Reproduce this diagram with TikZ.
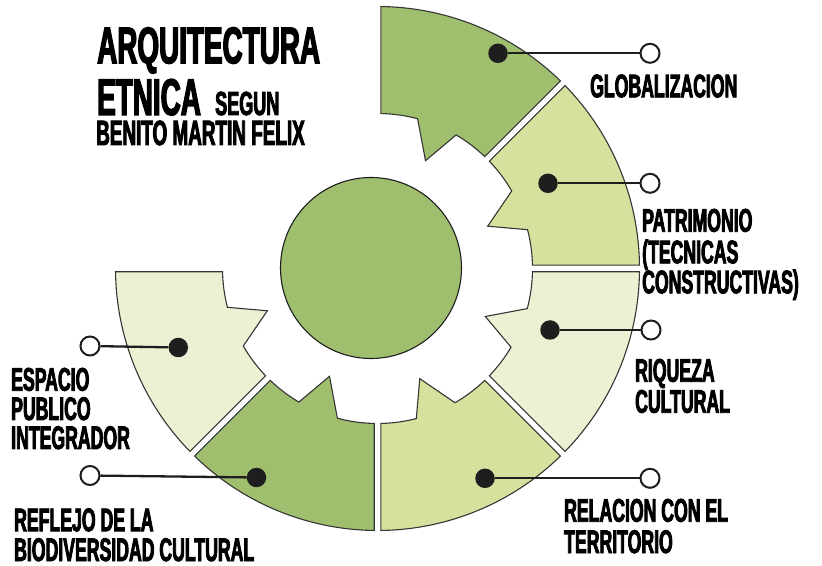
\documentclass[tikz,border=0pt]{standalone}
\usepackage{fontspec}
\newfontfamily\labfont{Liberation Sans}[UprightFont=* Bold, FakeStretch=0.54, FakeBold=2.5]
\definecolor{gdark}{HTML}{A0BF6E}
\definecolor{gmid}{HTML}{D5E29D}
\definecolor{glight}{HTML}{EBF1D2}
\definecolor{ink}{HTML}{1E1E1E}
\def\rin{155}
\def\rout{262}
\def\rtip{118}
\def\gap{3.3}
\newcommand{\ringseg}[2]{%
  \pgfmathsetmacro{\ai}{#1+asin(\gap/\rin)}%
  \pgfmathsetmacro{\ao}{#1+asin(\gap/\rout)}%
  \pgfmathsetmacro{\bi}{#1+45-asin(\gap/\rin)}%
  \pgfmathsetmacro{\bo}{#1+45-asin(\gap/\rout)}%
  \pgfmathsetmacro{\ta}{#1+30}%
  \pgfmathsetmacro{\tb}{#1+21}%
  \pgfmathsetmacro{\tc}{#1+14.5}%
  \filldraw[segline, fill=#2] (\ai:\rin) -- (\ao:\rout)
    arc[start angle=\ao, end angle=\bo, radius=\rout]
    -- (\bi:\rin) arc[start angle=\bi, end angle=\ta, radius=\rin]
    -- (\tb:\rtip) -- (\tc:\rin)
    arc[start angle=\tc, end angle=\ai, radius=\rin] -- cycle;
}
\begin{document}
\begin{tikzpicture}[x=1pt,y=1pt,
  segline/.style={draw=ink!90, line width=1.1pt},
  dot/.style={circle, fill=ink, inner sep=0pt, minimum size=19.5pt},
  ring/.style={circle, draw=ink, fill=white, line width=2pt, inner sep=0pt, minimum size=19pt},
  link/.style={draw=ink, line width=2.3pt},
  lab/.style={anchor=base west, inner sep=0pt, text=black, text height=22pt, text depth=0pt,
    font=\labfont\fontsize{32.7}{36}\selectfont},
  ttl/.style={lab, text height=35pt, font=\labfont\fontsize{51.6}{56}\selectfont}]
\useasboundingbox (0,0) rectangle (822,565);
% ring
\begin{scope}[shift={(377.5,296.5)}]
  \ringseg{45}{gdark}
  \ringseg{0}{gmid}
  \ringseg{-45}{glight}
  \ringseg{-90}{gmid}
  \ringseg{-135}{gdark}
  \ringseg{-180}{glight}
\end{scope}
% centre
\node[circle, draw=ink, line width=1.1pt, fill=gdark, minimum size=181pt, inner sep=0pt] (core) at (371,297) {};
% connectors
\node[dot] (d1) at (498,511.7) {};  \node[ring] (r1) at (650,511.7) {};
\node[dot] (d2) at (548,381.7) {};  \node[ring] (r2) at (650,381.7) {};
\node[dot] (d3) at (550,235) {};    \node[ring] (r3) at (651,235) {};
\node[dot] (d4) at (485,86.7) {};   \node[ring] (r4) at (650,86.7) {};
\node[dot] (d5) at (178.3,217.5) {};\node[ring] (r5) at (90,219) {};
\node[dot] (d6) at (256.5,87.5) {}; \node[ring] (r6) at (90,89.5) {};
\foreach \i in {1,...,6} {\draw[link] (d\i) -- (r\i);}
% title
\node[ttl] (t1) at (97,501.7) {ARQUITECTURA};
\node[ttl] (t2) at (97,450) {ETNICA};
\node[lab, text height=23pt, font=\labfont\fontsize{33.4}{36}\selectfont] (t3) at (215,450) {SEGUN};
\node[lab, text height=24pt, font=\labfont\fontsize{35}{38}\selectfont] (t4) at (96,420) {BENITO MARTIN FELIX};
% labels
\node[lab] (l1) at (590,467.7) {GLOBALIZACION};
\node[lab] (l2a) at (642,333.3) {PATRIMONIO};
\node[lab] (l2b) at (642,301.7) {(TECNICAS};
\node[lab] (l2c) at (642,271.7) {CONSTRUCTIVAS)};
\node[lab] (l3a) at (635,183.3) {RIQUEZA};
\node[lab] (l3b) at (635,152.3) {CULTURAL};
\node[lab] (l4a) at (564,43.3) {RELACION CON EL};
\node[lab] (l4b) at (564,12) {TERRITORIO};
\node[lab] (l5a) at (11,174.3) {ESPACIO};
\node[lab] (l5b) at (11,145) {PUBLICO};
\node[lab] (l5c) at (11,116) {INTEGRADOR};
\node[lab] (l6a) at (14,33.8) {REFLEJO DE LA};
\node[lab] (l6b) at (14,4) {BIODIVERSIDAD CULTURAL};
\end{tikzpicture}
\end{document}
